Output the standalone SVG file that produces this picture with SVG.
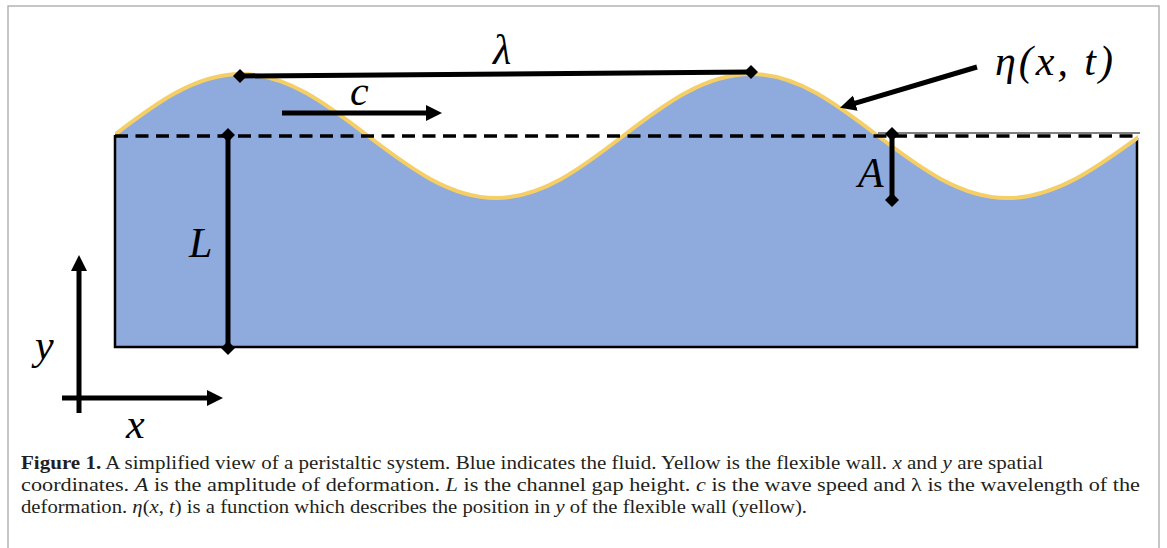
<svg xmlns="http://www.w3.org/2000/svg" width="1167" height="548" viewBox="0 0 1167 548">
<style>
.lbl{font-family:"Liberation Serif","DejaVu Serif",serif;font-style:italic;font-size:42px;fill:#000}
.cap{font-family:"Liberation Serif","DejaVu Serif",serif;font-size:19px;fill:#231f20}
.it{font-style:italic}
.dim{stroke:#000;stroke-width:5;fill:none}
.frame{stroke:#b4b4b4;stroke-width:1.5;fill:none}
</style>
<defs>
<clipPath id="chan"><rect x="115" y="0" width="1023" height="548"/></clipPath>
<path id="dia" d="M0,-7 L7,0 L0,7 L-7,0 Z" fill="#000"/>
<marker id="ah" markerUnits="userSpaceOnUse" markerWidth="20" markerHeight="20" refX="6" refY="8" orient="auto">
<path d="M0,0 L16,8 L0,16 Z" fill="#000"/>
</marker>
</defs>
<rect width="1167" height="548" fill="#fff"/>
<path class="frame" d="M8,548 L8,6 L1159,6 L1159,548"/>
<g id="fluid" clip-path="url(#chan)">
<path d="M113,136 C154.7,104.2 194.7,74 241,74 C287,74 326.6,104.2 368,136 C409.7,167.8 449.7,198 496,198 C542,198 581.6,167.8 623,136 C664.7,104.2 704.7,74 751,74 C797,74 836.6,104.2 878,136 C920.1,167.8 960.3,198 1007,198 C1055.1,198 1096.6,167.8 1140,136 L1140,347 L113,347 Z" fill="#8faadc"/>
</g>
<g id="channel-walls">
<path d="M115,135 L115,347 L1137,347 L1137,138" fill="none" stroke="#000" stroke-width="2.5"/>
</g>
<g id="flexible-wall" clip-path="url(#chan)">
<path d="M113,136 C154.7,104.2 194.7,74 241,74 C287,74 326.6,104.2 368,136 C409.7,167.8 449.7,198 496,198 C542,198 581.6,167.8 623,136 C664.7,104.2 704.7,74 751,74 C797,74 836.6,104.2 878,136 C920.1,167.8 960.3,198 1007,198 C1055.1,198 1096.6,167.8 1140,136" fill="none" stroke="#f5cf66" stroke-width="4"/>
</g>
<g id="connectors">
<line x1="115" y1="136" x2="1138" y2="136" stroke="#000" stroke-width="3.5" stroke-dasharray="13 7.5"/>
<line x1="878" y1="133" x2="1140" y2="133" stroke="#000" stroke-width="1"/>
<line class="dim" x1="240" y1="76" x2="751" y2="72"/>
<line class="dim" x1="228" y1="135" x2="228" y2="348"/>
<line class="dim" x1="892" y1="134" x2="892" y2="200"/>
<line class="dim" x1="282" y1="113" x2="432" y2="113" marker-end="url(#ah)"/>
<line class="dim" x1="977" y1="67" x2="849.6" y2="104.8" marker-end="url(#ah)"/>
<line class="dim" x1="79" y1="413" x2="79" y2="265" marker-end="url(#ah)"/>
<line class="dim" x1="62" y1="398" x2="213" y2="398" marker-end="url(#ah)"/>
<use href="#dia" x="240" y="76"/>
<use href="#dia" x="751" y="72"/>
<use href="#dia" x="228" y="135"/>
<use href="#dia" x="228" y="348"/>
<use href="#dia" x="892" y="134"/>
<use href="#dia" x="892" y="200"/>
</g>
<g id="label-lambda"><text class="lbl" x="502" y="64" text-anchor="middle">λ</text></g>
<g id="label-c"><text class="lbl" x="350" y="105" font-size="40">c</text></g>
<g id="label-eta"><text class="lbl" x="995" y="75" font-size="40" textLength="118">η(x, t)</text></g>
<g id="label-A"><text class="lbl" x="858" y="187">A</text></g>
<g id="label-L"><text class="lbl" x="189" y="257">L</text></g>
<g id="label-y"><text class="lbl" x="35" y="359">y</text></g>
<g id="label-x"><text class="lbl" x="126" y="438">x</text></g>
<g id="caption">
<text class="cap" x="21" y="469" textLength="1022" lengthAdjust="spacingAndGlyphs"><tspan font-weight="bold">Figure 1.</tspan> A simplified view of a peristaltic system. Blue indicates the fluid. Yellow is the flexible wall. <tspan class="it">x</tspan> and <tspan class="it">y</tspan> are spatial</text>
<text class="cap" x="21" y="491" textLength="1119" lengthAdjust="spacingAndGlyphs">coordinates. <tspan class="it">A</tspan> is the amplitude of deformation. <tspan class="it">L</tspan> is the channel gap height. <tspan class="it">c</tspan> is the wave speed and λ is the wavelength of the</text>
<text class="cap" x="21" y="513" textLength="786" lengthAdjust="spacingAndGlyphs">deformation. <tspan class="it">η</tspan>(<tspan class="it">x</tspan>, <tspan class="it">t</tspan>) is a function which describes the position in <tspan class="it">y</tspan> of the flexible wall (yellow).</text>
</g>
</svg>
